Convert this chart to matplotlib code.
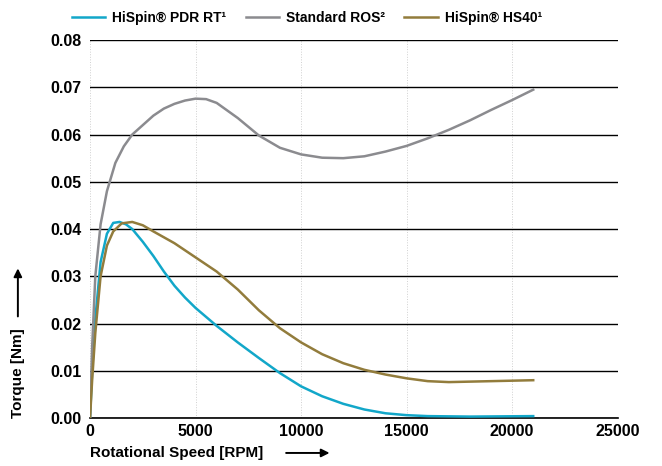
import numpy as np
import matplotlib
matplotlib.use("Agg")
import matplotlib.pyplot as plt

plt.rcParams["font.family"] = ["Liberation Sans", "DejaVu Sans"]
plt.rcParams["font.weight"] = "bold"

speed_pdr = [0, 100, 250, 500, 800, 1100, 1400, 1700, 2000, 2500, 3000, 3500, 4000, 4500, 5000,
             6000, 7000, 8000, 9000, 10000, 11000, 12000, 13000, 14000, 15000, 16000, 18000, 21000]
torque_pdr = [0, 0.010, 0.021, 0.033, 0.039, 0.0413, 0.0415, 0.041, 0.0400, 0.0373, 0.0343, 0.031,
              0.028, 0.0255, 0.0233, 0.0195, 0.016, 0.0127, 0.0095, 0.0067, 0.0046, 0.003, 0.0018,
              0.001, 0.0006, 0.0004, 0.0003, 0.0004]

speed_ros = [0, 100, 250, 500, 800, 1200, 1600, 2000, 2500, 3000, 3500, 4000, 4500, 5000, 5500,
             6000, 7000, 8000, 9000, 10000, 11000, 12000, 13000, 14000, 15000, 16000, 17000, 18000,
             19000, 20000, 21000]
torque_ros = [0, 0.015, 0.030, 0.041, 0.048, 0.054, 0.0575, 0.0600, 0.0620, 0.0640, 0.0655, 0.0665,
              0.0672, 0.0676, 0.0675, 0.0667, 0.0635, 0.0598, 0.0572, 0.0558, 0.0551, 0.0550, 0.0554,
              0.0564, 0.0576, 0.0592, 0.0610, 0.0630, 0.0652, 0.0673, 0.0695]

speed_hs40 = [0, 100, 250, 500, 800, 1100, 1500, 2000, 2500, 3000, 4000, 5000, 6000, 7000, 8000,
              9000, 10000, 11000, 12000, 13000, 14000, 15000, 16000, 17000, 18000, 19000, 20000, 21000]
torque_hs40 = [0, 0.008, 0.018, 0.030, 0.0365, 0.0395, 0.0412, 0.0415, 0.0408, 0.0395, 0.037, 0.034,
               0.031, 0.0272, 0.0228, 0.019, 0.016, 0.0135, 0.0116, 0.0102, 0.0092, 0.0084, 0.0078,
               0.0076, 0.0077, 0.0078, 0.0079, 0.0080]

labels = ["HiSpin® PDR RT¹", "Standard ROS²", "HiSpin® HS40¹"]
colors = ["#12a7c9", "#8b8b8f", "#927c3c"]

fig = plt.figure(figsize=(6.62, 4.66), dpi=100)
ax = fig.add_axes([0.136, 0.103, 0.797, 0.811])

ax.plot(speed_pdr, torque_pdr, color=colors[0], lw=1.8, label=labels[0], zorder=3)
ax.plot(speed_ros, torque_ros, color=colors[1], lw=1.8, label=labels[1], zorder=3)
ax.plot(speed_hs40, torque_hs40, color=colors[2], lw=1.8, label=labels[2], zorder=3)

ax.set_xlim(0, 25000)
ax.set_ylim(0, 0.08)
ax.set_xticks(np.arange(0, 25001, 5000))
ax.set_yticks(np.arange(0, 0.0801, 0.01))
ax.set_yticklabels([f"{v:.2f}" for v in np.arange(0, 0.0801, 0.01)])

ax.yaxis.grid(True, color="black", lw=1.0, ls="-")
ax.xaxis.grid(True, color="#d0d0d0", lw=0.7, ls=":")
ax.set_axisbelow(True)
for s in ["top", "right", "left"]:
    ax.spines[s].set_visible(False)
ax.spines["bottom"].set_color("black")
ax.spines["bottom"].set_linewidth(1.2)
ax.tick_params(axis="both", length=0, labelsize=11.5, pad=6)
ax.tick_params(axis="x", pad=4)

fig.legend(loc="center left", bbox_to_anchor=(0.1, 0.962), ncol=3, frameon=False,
           prop={"weight": "bold", "size": 10},
           handlelength=2.4, columnspacing=1.4, handletextpad=0.5, borderaxespad=0.0)

fig.text(0.136, 0.028, "Rotational Speed [RPM]", fontsize=11, fontweight="bold", ha="left", va="center")
fig.add_artist(matplotlib.patches.FancyArrowPatch((0.428, 0.028), (0.502, 0.028),
               transform=fig.transFigure, arrowstyle="-|>", mutation_scale=12, color="black", lw=1.4))
fig.text(0.027, 0.103, "Torque [Nm]", fontsize=11, fontweight="bold", rotation=90, ha="center", va="bottom")
fig.add_artist(matplotlib.patches.FancyArrowPatch((0.027, 0.315), (0.027, 0.43),
               transform=fig.transFigure, arrowstyle="-|>", mutation_scale=12, color="black", lw=1.4))

fig.savefig("out.png", dpi=100)
